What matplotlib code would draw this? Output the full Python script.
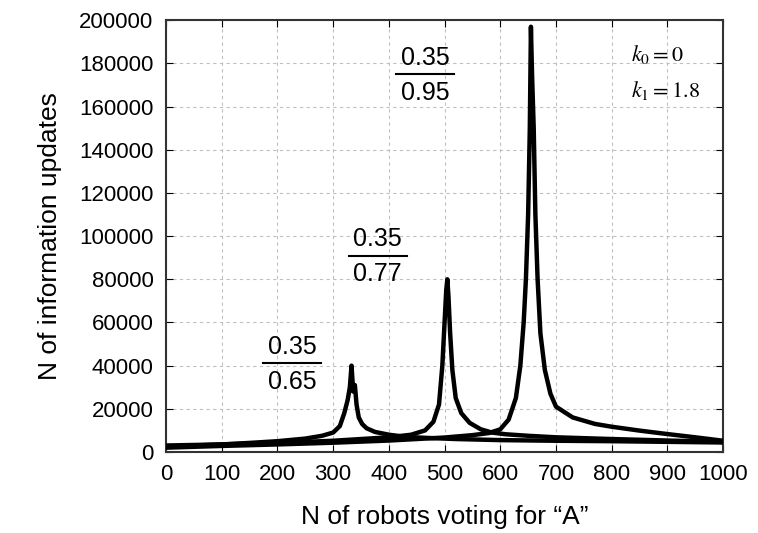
import matplotlib
matplotlib.use("Agg")
import matplotlib.pyplot as plt

# curve for 0.35/0.65
x1 = [0, 50, 100, 150, 200, 250, 280, 300, 312, 320, 326, 330, 333, 336, 339, 342, 346,
      352, 360, 375, 400, 430, 470, 520, 600, 700, 800, 900, 1000]
y1 = [2500, 3000, 3500, 4200, 5000, 6200, 7500, 9000, 12000, 18000, 24000, 30000, 40000,
      28000, 31000, 22000, 16000, 13000, 11000, 9300, 8000, 7000, 6500, 6000, 5500, 5200,
      5000, 4700, 4400]

# curve for 0.35/0.77
x2 = [0, 100, 200, 300, 400, 440, 465, 480, 490, 496, 500, 503, 505, 507, 510, 514, 520,
      530, 545, 565, 585, 610, 650, 700, 800, 900, 1000]
y2 = [3000, 3500, 4200, 5200, 6800, 8000, 10000, 14000, 22000, 40000, 60000, 75000, 80000,
      72000, 55000, 38000, 25000, 18000, 13500, 10500, 9000, 8200, 7500, 6800, 6000, 5300, 4700]

# curve for 0.35/0.95
x3 = [0, 100, 200, 300, 400, 500, 550, 580, 600, 615, 628, 636, 642, 646, 650, 653, 655,
      657, 660, 663, 667, 672, 680, 690, 700, 730, 770, 800, 850, 900, 950, 1000]
y3 = [2000, 2800, 3500, 4300, 5300, 6700, 7800, 8800, 10500, 15000, 25000, 40000, 60000,
      80000, 110000, 150000, 197000, 175000, 150000, 110000, 80000, 55000, 38000, 27000,
      21000, 16000, 13000, 11700, 9900, 8300, 6800, 5200]

fractions = [("0.35", "0.65", 226, 41000), ("0.35", "0.77", 380, 91000), ("0.35", "0.95", 465, 175000)]

plt.rcParams["font.family"] = ["Liberation Sans", "DejaVu Sans"]
plt.rcParams["mathtext.fontset"] = "stix"

fig = plt.figure(figsize=(7.58, 5.33), dpi=100)
ax = fig.add_axes([0.219, 0.152, 0.735, 0.810])

for xs, ys in [(x1, y1), (x2, y2), (x3, y3)]:
    ax.plot(xs, ys, color="black", lw=3.2, solid_joinstyle="round", zorder=3)

ax.set_xlim(0, 1000)
ax.set_ylim(0, 200000)
ax.set_xticks(range(0, 1001, 100))
ax.set_yticks(range(0, 200001, 20000))
ax.tick_params(direction="in", top=True, right=True, labelsize=16, length=5, pad=9)
ax.grid(True, ls=(0, (3, 3)), color="#c0c0c0", lw=0.8)
for s in ax.spines.values():
    s.set_linewidth(1.5)
    s.set_color("#333333")

ax.set_xlabel("N of robots voting for \u201cA\u201d", fontsize=19, labelpad=14)
ax.set_ylabel("N of information updates", fontsize=19, labelpad=12)

for num, den, fx, fy in fractions:
    ax.text(fx, fy + 2000, num, ha="center", va="bottom", fontsize=18)
    ax.text(fx, fy - 3000, den, ha="center", va="top", fontsize=18)
    ax.plot([fx - 52, fx + 52], [fy, fy], color="black", lw=1.5)

ax.text(835, 184000, r"$k_0=0$", ha="left", va="center", fontsize=16)
ax.text(835, 167500, r"$k_1=1.8$", ha="left", va="center", fontsize=16)

fig.savefig("out.png", dpi=100)
